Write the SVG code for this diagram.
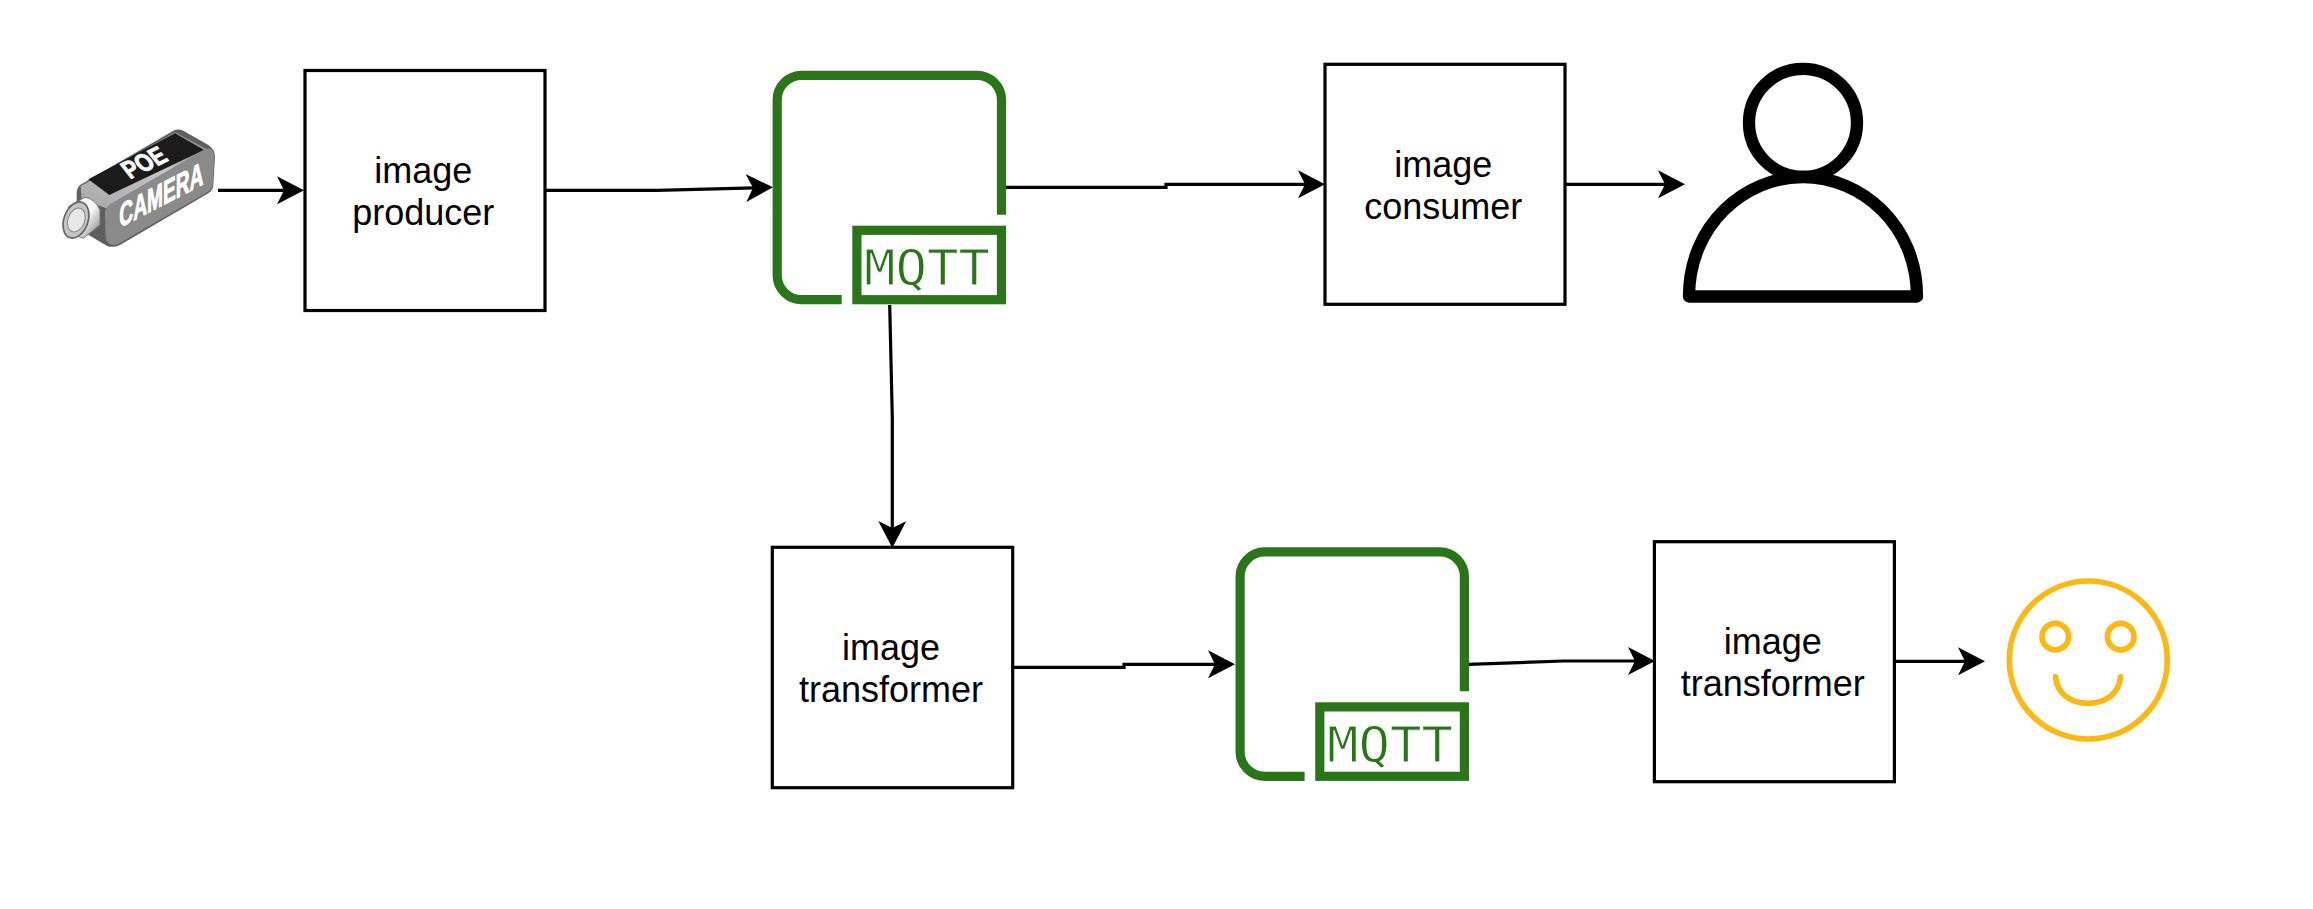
<svg xmlns="http://www.w3.org/2000/svg" width="2313" height="909" viewBox="0 0 2313 909">
<defs>
<style>
.box{fill:#fff;stroke:#000;stroke-width:3.2}
.lbl{font-family:"Liberation Sans",Arial,sans-serif;font-size:36px;fill:#000;text-anchor:middle}
.edge{fill:none;stroke:#000;stroke-width:3.2;marker-end:url(#arrow)}
.mq{fill:none;stroke:#2a7519;stroke-width:9.2}
.mqt{font-family:"DejaVu Sans Mono",monospace;font-size:50px;fill:#2a7519;stroke:#fff;stroke-width:.9;paint-order:fill}
.cam{font-family:"Liberation Sans",Arial,sans-serif;font-weight:bold;fill:#fff;stroke:#fff;stroke-width:3}
</style>
<marker id="arrow" markerUnits="userSpaceOnUse" markerWidth="27" markerHeight="28" viewBox="0 0 27 28" refX="19" refY="14" orient="auto">
<path d="M0 0L27 14L0 28L7 14Z" fill="#000"/>
</marker>
<linearGradient id="rim" x1="0" y1="1" x2="1" y2="0"><stop offset="0" stop-color="#a8a8a8"/><stop offset=".6" stop-color="#c6c6c6"/><stop offset="1" stop-color="#777"/></linearGradient>
<linearGradient id="barrel" x1="0" y1="0" x2="1" y2="1"><stop offset="0" stop-color="#ededed"/><stop offset=".5" stop-color="#fff"/><stop offset="1" stop-color="#777"/></linearGradient>
<g id="mqtt">
<path class="mq" d="M1001.5 214.7V100A24.6 24.6 0 0 0 976.9 75.3H801.8A24.6 24.6 0 0 0 777.2 100V275A24.6 24.6 0 0 0 801.8 299.7H841.7"/>
<rect class="mq" x="856.9" y="230.3" width="144.6" height="69.4"/>
<text class="mqt" x="864" y="285" textLength="126" lengthAdjust="spacingAndGlyphs">MQTT</text>
</g>
</defs>
<rect width="2313" height="909" fill="#fff"/>
<g id="connectors">
<path class="edge" d="M218 190.3H296"/>
<path class="edge" d="M545 190.3H657L765 187.5"/>
<path class="edge" d="M1006 187.3H1166V184.3H1317"/>
<path class="edge" d="M1565 184.3H1677"/>
<path class="edge" d="M889.7 305L892.3 418V540"/>
<path class="edge" d="M1012.7 667.3H1124V664.3H1227"/>
<path class="edge" d="M1468.7 664.3L1563.7 661H1647"/>
<path class="edge" d="M1894 661.3H1977"/>
</g>
<g id="camera" transform="translate(40,100) scale(.33333)">
<path d="M120 255L400 92Q415 85 430 92L505 135Q525 148 525 170L520 255Q518 272 505 280L240 435Q220 445 200 437L130 395Q110 380 110 360V280Q110 265 120 255Z" fill="#5f5f5f"/>
<path d="M122 258L405 97L510 152L200 325L125 300Z" fill="url(#rim)"/>
<path d="M145 238L405 100L492 150L208 285Z" fill="#1b1b1b"/>
<path d="M195 335Q198 320 215 310L490 150Q520 135 523 170L518 255Q516 270 503 276L235 432Q205 442 197 415Z" fill="#8a8a8a"/>
<path d="M85 320L135 292Q165 296 180 330V375L130 415L90 400Z" fill="url(#barrel)" stroke="#777" stroke-width="3"/>
<ellipse cx="108" cy="360" rx="36" ry="56" transform="rotate(20 108 360)" fill="#c4c4c4" stroke="#666" stroke-width="5"/>
<ellipse cx="109" cy="360" rx="25" ry="37" transform="rotate(20 109 360)" fill="#e8e8e8" stroke="#888" stroke-width="3"/>
<text class="cam" font-size="100" transform="matrix(1,-.52,0,1,238,384)" textLength="252" lengthAdjust="spacingAndGlyphs">CAMERA</text>
<text class="cam" font-size="90" transform="matrix(1,-.49,.55,.7,270,238)" textLength="118" lengthAdjust="spacingAndGlyphs">POE</text>
</g>
<g id="image-producer">
<rect class="box" x="305" y="70.5" width="240" height="240"/>
<text class="lbl" x="423.3" y="182.7">image</text>
<text class="lbl" x="423.3" y="224.7">producer</text>
</g>
<g id="mqtt-broker-1"><use href="#mqtt"/></g>
<g id="image-consumer">
<rect class="box" x="1325" y="64.3" width="240" height="240"/>
<text class="lbl" x="1443.3" y="176.7">image</text>
<text class="lbl" x="1443.3" y="218.7">consumer</text>
</g>
<g id="user" fill="none" stroke="#000" stroke-width="12.3" stroke-linejoin="round">
<circle cx="1803" cy="122.8" r="54"/>
<path d="M1689 296.5C1689 225 1745 177 1803 177C1861 177 1917 225 1917 296.5Z"/>
</g>
<g id="image-transformer-1">
<rect class="box" x="772.3" y="547.3" width="240.4" height="240.4"/>
<text class="lbl" x="891" y="659.7">image</text>
<text class="lbl" x="891" y="701.7">transformer</text>
</g>
<g id="mqtt-broker-2"><use href="#mqtt" transform="translate(462.9,476.6)"/></g>
<g id="image-transformer-2">
<rect class="box" x="1654.4" y="541.7" width="240" height="240"/>
<text class="lbl" x="1772.7" y="654">image</text>
<text class="lbl" x="1772.7" y="695.7">transformer</text>
</g>
<g id="smiley" fill="none" stroke="#fdb913" stroke-width="5.7" stroke-linecap="round">
<circle cx="2088.3" cy="660" r="79"/>
<circle cx="2055.3" cy="636.7" r="13.3"/>
<circle cx="2120.7" cy="636.7" r="13.3"/>
<path d="M2055.5 676.7C2057 694 2071 703.3 2088 703.3C2105 703.3 2119 694 2120.5 676.7"/>
</g>
</svg>
